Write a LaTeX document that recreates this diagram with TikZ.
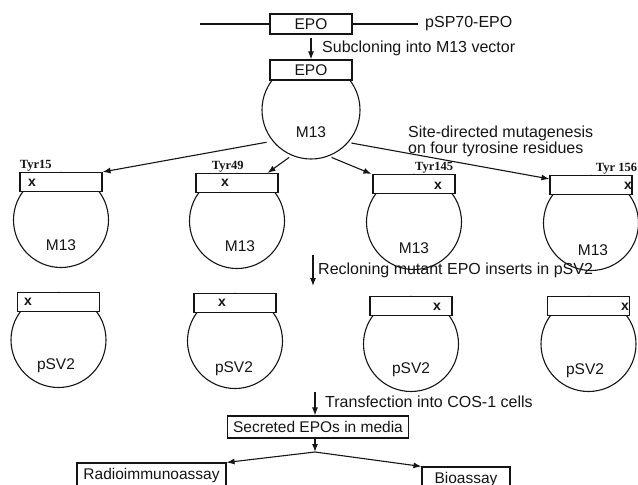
\documentclass[tikz,border=0pt]{standalone}
\usepackage{fontspec}
\setmainfont{Liberation Sans}
\newfontfamily\tyrfont{Liberation Serif}
\usetikzlibrary{arrows.meta,positioning}
\definecolor{figink}{HTML}{151515}
\tikzset{
  fig line/.style={draw=figink, line width=1.1pt},
  fig arrow/.style={draw=figink, line width=1.1pt,
    -{Latex[length=8pt,width=6pt]}},
  vector circle/.style={circle, draw=figink, line width=1.1pt,
    minimum size=95pt, inner sep=0pt},
  insert box/.style={rectangle, draw=figink, fill=white, line width=1.1pt,
    minimum width=82pt, minimum height=19pt, inner sep=0pt,
    font=\fontsize{15.5}{18}\selectfont, text=figink},
  result box/.style={rectangle, draw=figink, line width=1.1pt,
    minimum height=24pt, inner sep=0pt,
    font=\fontsize{15.5}{18}\selectfont, text=figink},
  plasmid label/.style={font=\fontsize{15.5}{18}\selectfont, text=figink},
  step label/.style={font=\fontsize{16}{16}\selectfont, text=figink,
    anchor=west, inner sep=0pt},
  tyr label/.style={font=\tyrfont\bfseries\fontsize{12.5}{14}\selectfont,
    text=figink, inner sep=0.3pt},
  mut mark/.style={font=\bfseries\fontsize{14}{16}\selectfont,
    text=figink, inner sep=0pt},
}

\begin{document}
\begin{tikzpicture}[x=1pt, y=-1pt]
  \useasboundingbox (0,0) rectangle (638,485);

  % pSP70-EPO
  \coordinate (pspleft) at (200,24);
  \coordinate (pspright) at (418,24);
  \node[insert box, minimum height=20pt] (pspepo) at (311,24) {EPO};
  \draw[fig line] (pspleft) -- (pspepo);
  \draw[fig line] (pspepo) -- (pspright);
  \node[step label, right=7pt of pspright] {pSP70-EPO};

  % M13 with EPO
  \node[vector circle, minimum size=98pt] (m13top) at (311,110) {};
  \node[insert box, minimum height=20pt] (epotop) at (311,70) {EPO};
  \node[plasmid label] at (311,132) {M13};
  \draw[fig arrow, shorten <=3pt] (pspepo) -- (epotop);
  \node[step label] at (322,48) {Subcloning into M13 vector};

  % mutants in M13
  \node[vector circle] (m13a) at (61,220) {};
  \node[insert box] (tyra) at (61,182) {};
  \node[mut mark] at (32,183) {x};
  \node[tyr label, anchor=south west] at (tyra.north west) {Tyr15};
  \node[plasmid label] at (61,245) {M13};

  \node[vector circle] (m13b) at (237,221) {};
  \node[insert box] (tyrb) at (237,183) {};
  \node[mut mark] at (225,183) {x};
  \node[tyr label, anchor=south west, xshift=16pt] at (tyrb.north west) {Tyr49};
  \node[plasmid label] at (240,246) {M13};

  \node[vector circle] (m13c) at (414,222) {};
  \node[insert box] (tyrc) at (414,184) {};
  \node[mut mark] at (438,186) {x};
  \node[tyr label, anchor=south east, xshift=-2pt] at (tyrc.north east) {Tyr145};
  \node[plasmid label] at (414,248) {M13};

  \node[vector circle] (m13d) at (591,223) {};
  \node[insert box] (tyrd) at (591,185) {};
  \node[mut mark] at (628,186) {x};
  \node[tyr label, anchor=south east, xshift=5pt] at (tyrd.north east) {Tyr 156};
  \node[plasmid label] at (593,250) {M13};

  \draw[fig arrow, shorten <=6pt] (m13top.219) -- (tyra.north east);
  \draw[fig arrow, shorten <=3pt] (m13top.247) -- ([xshift=-11pt]tyrb.north east);
  \draw[fig arrow, shorten <=3pt] (m13top.291) -- ([xshift=-1pt]tyrc.north west);
  \draw[fig arrow, shorten <=3pt] (m13top.319) -- ([yshift=-4pt]tyrd.north west);
  \node[step label, align=left] at (408,141)
    {Site-directed mutagenesis\\on four tyrosine residues};

  % recloning
  \coordinate (recltop) at (313,255);
  \coordinate (reclbot) at (313,286);
  \draw[fig arrow] (recltop) -- (reclbot);
  \node[step label] at (318,270) {Recloning mutant EPO inserts in pSV2};

  % mutants in pSV2
  \node[vector circle] (psva) at (58.5,340) {};
  \node[insert box] (insa) at (58.5,302) {};
  \node[mut mark] at (28,302) {x};
  \node[plasmid label] at (56,366) {pSV2};

  \node[vector circle] (psvb) at (235,341) {};
  \node[insert box] (insb) at (235,303) {};
  \node[mut mark] at (222,303) {x};
  \node[plasmid label] at (234,369) {pSV2};

  \node[vector circle] (psvc) at (411,344) {};
  \node[insert box] (insc) at (411,306) {};
  \node[mut mark] at (437,307) {x};
  \node[plasmid label] at (411,370) {pSV2};

  \node[vector circle] (psvd) at (588.5,344) {};
  \node[insert box] (insd) at (588.5,306) {};
  \node[mut mark] at (625,307) {x};
  \node[plasmid label] at (585,371) {pSV2};

  % transfection and assays
  \coordinate (transtop) at (315,392);
  \node[result box, minimum width=181pt, minimum height=22pt] (secreted)
    at (318,427) {Secreted EPOs in media};
  \draw[fig arrow] (transtop) -- (transtop |- secreted.north);
  \node[step label] at (325,402) {Transfection into COS-1 cells};

  \coordinate (split) at (315,452);
  \draw[fig arrow] (secreted.south -| split) -- (split);
  \node[result box, minimum width=149pt] (radio) at (151.5,475) {Radioimmunoassay};
  \node[result box, minimum width=88pt] (bio) at (466,479) {Bioassay};
  \draw[fig arrow] (split) -- (radio.north east);
  \draw[fig arrow] (split) -- (bio.north west);
\end{tikzpicture}
\end{document}
